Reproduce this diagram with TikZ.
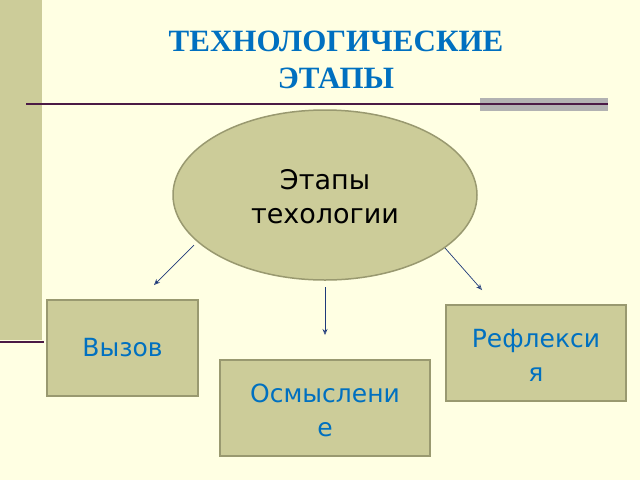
\documentclass[tikz,border=0pt]{standalone}
\usepackage{fontspec}
\setmainfont{DejaVu Sans}
\newfontfamily\titlefont{Liberation Serif}
\usetikzlibrary{arrows.meta,shapes.geometric}
\definecolor{bg}{HTML}{FFFFE3}
\definecolor{olive}{HTML}{CCCC99}
\definecolor{oliveline}{HTML}{999970}
\definecolor{tblue}{HTML}{0070C0}
\definecolor{purp}{HTML}{4B1A45}
\definecolor{arr}{HTML}{1F3A7A}
\tikzset{box/.style={draw=oliveline,line width=1.5pt,fill=olive,text=tblue,font=\fontsize{25}{30}\selectfont,align=center,inner sep=0pt},
con/.style={draw=arr,line width=0.7pt,-{Stealth[length=6pt,width=5pt,open]}}}
\begin{document}
\begin{tikzpicture}[x=1pt,y=-1pt]
\fill[bg] (0,0) rectangle (640,480);
\useasboundingbox (0,0) rectangle (640,480);
\fill[olive] (0,0) rectangle (42,340);
\draw[purp,line width=2.5pt] (0,342) -- (44,342);
\fill[gray!60] (480,98) rectangle (608,111);
\draw[purp,line width=1.5pt] (26,104) -- (608,104);
\node[text=tblue,font=\titlefont\bfseries\fontsize{31}{37}\selectfont,align=center] (title) at (336,60) {ТЕХНОЛОГИЧЕСКИЕ\\ЭТАПЫ};
\node[draw=oliveline,line width=1.5pt,fill=olive,ellipse,minimum width=304,minimum height=170,inner sep=0pt] (e) at (325,195) {};
\node[font=\fontsize{27}{34}\selectfont,align=center] (et) at (325,197) {Этапы\\техологии};
\node[box,minimum width=151,minimum height=96] (v) at (122.5,348) {Вызов};
\node[box,minimum width=180,minimum height=96] (r) at (536,353) {};
\node[text=tblue,font=\fontsize{25}{34}\selectfont,align=center] (rt) at (536,355) {Рефлекси\\я};
\node[box,minimum width=210,minimum height=96] (o) at (325,408) {};
\node[text=tblue,font=\fontsize{25}{34}\selectfont,align=center] (ot) at (325,410) {Осмыслени\\е};
\coordinate (a1) at (194,245); \coordinate (b1) at (154,285);
\coordinate (a2) at (325,287); \coordinate (b2) at (325,335);
\coordinate (a3) at (445,248); \coordinate (b3) at (482,290);
\draw[con] (a1) -- (b1);
\draw[con] (a2) -- (b2);
\draw[con] (a3) -- (b3);
\end{tikzpicture}
\end{document}
